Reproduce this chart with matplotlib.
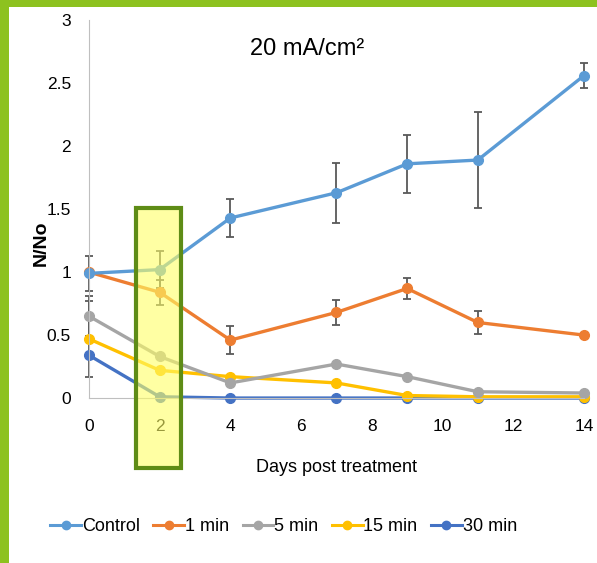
import matplotlib.pyplot as plt
from matplotlib.patches import Rectangle
from matplotlib.lines import Line2D

plt.rcParams['font.family'] = ['Liberation Sans', 'DejaVu Sans']

days = [0, 2, 4, 7, 9, 11, 14]
series_names = ['Control', '1 min', '5 min', '15 min', '30 min']
control = [0.99, 1.02, 1.43, 1.63, 1.86, 1.89, 2.56]
control_err = [0.14, 0.15, 0.15, 0.24, 0.23, 0.38, 0.10]
min1 = [1.00, 0.84, 0.46, 0.68, 0.87, 0.60, 0.50]
min1_err = [0.0, 0.10, 0.11, 0.10, 0.08, 0.09, 0.02]
min5 = [0.65, 0.33, 0.12, 0.27, 0.17, 0.05, 0.04]
min5_err = [0.16, 0.0, 0.0, 0.0, 0.0, 0.0, 0.0]
min15 = [0.47, 0.22, 0.17, 0.12, 0.02, 0.01, 0.01]
min15_err = [0.30, 0.0, 0.0, 0.0, 0.0, 0.0, 0.0]
min30 = [0.34, 0.01, 0.0, 0.0, 0.0, 0.0, 0.0]
min30_err = [0.0] * 7

colors = ['#5B9BD5', '#ED7D31', '#A5A5A5', '#FFC000', '#4472C4']
values = [control, min1, min5, min15, min30]
errors = [control_err, min1_err, min5_err, min15_err, min30_err]

fig = plt.figure(figsize=(5.97, 5.63), dpi=100)
ax = fig.add_axes([0.149, 0.293, 0.829, 0.671])

# draw bottom series first so control is on top
for name, vals, errs, col in reversed(list(zip(series_names, values, errors, colors))):
    ax.errorbar(days, vals, yerr=errs, color=col, marker='o', markersize=7,
                linewidth=2.4, ecolor='#595959', elinewidth=1.3, capsize=3,
                capthick=1.3, clip_on=False)

ax.set_xlim(0, 14)
ax.set_ylim(0, 3)
ax.set_xticks([0, 2, 4, 6, 8, 10, 12, 14])
ax.set_yticks([0, 0.5, 1, 1.5, 2, 2.5, 3])
ax.set_yticklabels(['0', '0.5', '1', '1.5', '2', '2.5', '3'])
ax.tick_params(length=0, labelsize=12.5)
ax.tick_params(axis='x', pad=15)
ax.tick_params(axis='y', pad=13)
for side in ['top', 'right']:
    ax.spines[side].set_visible(False)
for side in ['left', 'bottom']:
    ax.spines[side].set_color('#BFBFBF')
ax.set_xlabel('Days post treatment', fontsize=13, labelpad=18)
ax.set_ylabel('N/No', fontsize=14, fontweight='bold')
ax.yaxis.set_label_coords(-0.08, 0.41)
ax.text(0.44, 0.925, '20 mA/cm²', transform=ax.transAxes, ha='center',
        va='center', fontsize=17)

handles = [Line2D([], [], color=c, marker='o', markersize=6, linewidth=2.2)
           for c in colors]
fig.legend(handles, series_names, loc='center', ncol=5,
           bbox_to_anchor=(0.475, 0.064), frameon=False, fontsize=13,
           handlelength=1.7, handletextpad=0.05, columnspacing=0.75)

# highlight box around day 2
fig.patches.append(Rectangle((136 / 597, 1 - 468 / 563), 45 / 597, 260 / 563,
                             transform=fig.transFigure, facecolor='#FFFF66',
                             alpha=0.6, edgecolor='none', zorder=5))
fig.patches.append(Rectangle((136 / 597, 1 - 468 / 563), 45 / 597, 260 / 563,
                             transform=fig.transFigure, facecolor='none',
                             edgecolor='#5E8C16', linewidth=3, zorder=6))

# green frame on left and top
fig.patches.append(Rectangle((0, 0), 9 / 597, 1, transform=fig.transFigure,
                             facecolor='#8DC21F', edgecolor='none', zorder=7))
fig.patches.append(Rectangle((0, 1 - 7 / 563), 1, 7 / 563, transform=fig.transFigure,
                             facecolor='#8DC21F', edgecolor='none', zorder=7))

fig.savefig('out.png', dpi=100)
